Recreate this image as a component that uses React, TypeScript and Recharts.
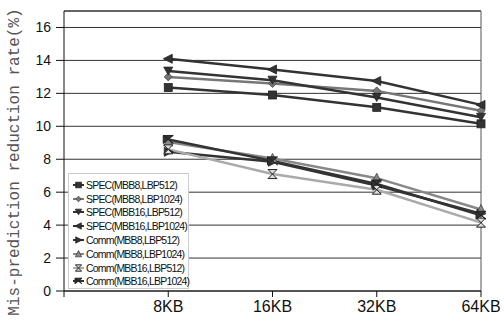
import React from 'react';
import { LineChart, Line, XAxis, YAxis, CartesianGrid, ReferenceLine } from 'recharts';

const categories = ['', '8KB', '16KB', '32KB', '64KB'];
const positions = [1, 2, 3, 4];
const yTicks = [0, 2, 4, 6, 8, 10, 12, 14, 16];

const specMbb8Lbp512 = [12.35, 11.9, 11.15, 10.15];
const specMbb8Lbp1024 = [13.0, 12.6, 12.15, 10.95];
const specMbb16Lbp512 = [13.35, 12.8, 11.75, 10.55];
const specMbb16Lbp1024 = [14.1, 13.45, 12.75, 11.3];
const commMbb8Lbp512 = [8.45, 7.85, 6.4, 4.7];
const commMbb8Lbp1024 = [9.05, 8.05, 6.85, 4.95];
const commMbb16Lbp512 = [8.6, 7.1, 6.15, 4.15];
const commMbb16Lbp1024 = [9.2, 7.9, 6.5, 4.6];

type Shape = 'square' | 'diamond' | 'down' | 'left' | 'right' | 'up' | 'hourglass' | 'bowtie';

const series: { key: string; name: string; values: number[]; color: string; shape: Shape; fill: string }[] = [
  { key: 's1', name: 'SPEC(MBB8,LBP512)', values: specMbb8Lbp512, color: '#333', shape: 'square', fill: '#333' },
  { key: 's2', name: 'SPEC(MBB8,LBP1024)', values: specMbb8Lbp1024, color: '#777', shape: 'diamond', fill: '#777' },
  { key: 's3', name: 'SPEC(MBB16,LBP512)', values: specMbb16Lbp512, color: '#333', shape: 'down', fill: '#333' },
  { key: 's4', name: 'SPEC(MBB16,LBP1024)', values: specMbb16Lbp1024, color: '#333', shape: 'left', fill: '#333' },
  { key: 'c1', name: 'Comm(MBB8,LBP512)', values: commMbb8Lbp512, color: '#333', shape: 'right', fill: '#333' },
  { key: 'c2', name: 'Comm(MBB8,LBP1024)', values: commMbb8Lbp1024, color: '#888', shape: 'up', fill: '#888' },
  { key: 'c3', name: 'Comm(MBB16,LBP512)', values: commMbb16Lbp512, color: '#aaa', shape: 'hourglass', fill: '#ddd' },
  { key: 'c4', name: 'Comm(MBB16,LBP1024)', values: commMbb16Lbp1024, color: '#333', shape: 'bowtie', fill: '#333' },
];

const data = positions.map((x, i) => {
  const row: Record<string, number> = { x };
  series.forEach((s) => {
    row[s.key] = s.values[i];
  });
  return row;
});

function Marker({ shape, cx, cy, fill, s = 1 }: { shape: Shape; cx: number; cy: number; fill: string; s?: number }) {
  const st = '#222';
  const p = (pts: number[][]) => pts.map(([a, b]) => `${cx + a * s},${cy + b * s}`).join(' ');
  switch (shape) {
    case 'square':
      return <rect x={cx - 4 * s} y={cy - 4 * s} width={8 * s} height={8 * s} fill={fill} stroke={st} strokeWidth={0.8} />;
    case 'diamond':
      return <polygon points={p([[0, -4], [4, 0], [0, 4], [-4, 0]])} fill={fill} stroke="#444" strokeWidth={0.8} />;
    case 'down':
      return <polygon points={p([[-4.5, -4], [4.5, -4], [0, 4]])} fill={fill} stroke={st} strokeWidth={0.8} />;
    case 'left':
      return <polygon points={p([[-5, 0], [4, -4.5], [4, 4.5]])} fill={fill} stroke={st} strokeWidth={0.8} />;
    case 'right':
      return <polygon points={p([[5, 0], [-4, -4.5], [-4, 4.5]])} fill={fill} stroke={st} strokeWidth={0.8} />;
    case 'up':
      return <polygon points={p([[0, -5], [4.5, 4], [-4.5, 4]])} fill={fill} stroke="#444" strokeWidth={0.8} />;
    case 'hourglass':
      return <polygon points={p([[-4.5, -4.5], [4.5, -4.5], [-4.5, 4.5], [4.5, 4.5]])} fill={fill} stroke={st} strokeWidth={1} />;
    case 'bowtie':
      return <polygon points={p([[-5, -4], [0, 0], [-5, 4], [-5, -4], [5, -4], [0, 0], [5, 4]])} fill={fill} stroke={st} strokeWidth={1} />;
  }
  return null;
}

function LegendBox() {
  return (
    <div
      style={{
        position: 'absolute',
        left: 68,
        top: 173,
        width: 121,
        height: 116,
        boxSizing: 'border-box',
        background: '#fff',
        border: '1px solid #ccc',
        padding: '4px 0 0 0',
        fontFamily: 'Liberation Sans, Arial, sans-serif',
        fontSize: 10.5,
        letterSpacing: -0.8,
        color: '#111',
        whiteSpace: 'nowrap',
      }}
    >
      {series.map((s) => (
        <div key={s.key} style={{ display: 'flex', alignItems: 'center', height: 13.8 }}>
          <svg width={14} height={12} style={{ marginLeft: 3, flex: 'none' }}>
            <line x1={1} y1={6} x2={12} y2={6} stroke={s.color} strokeWidth={2} />
            <Marker shape={s.shape} cx={6.5} cy={6} fill={s.fill} s={0.7} />
          </svg>
          <span>{s.name}</span>
        </div>
      ))}
    </div>
  );
}

export default function App() {
  return (
    <div style={{ position: 'absolute', left: 0, top: 0, width: 504, height: 323, background: '#fff' }}>
      <LineChart width={504} height={323} data={data} margin={{ top: 11, right: 23, left: 0, bottom: 0 }}>
        <CartesianGrid horizontal vertical={false} stroke="#333" strokeWidth={1} />
        <XAxis
          dataKey="x"
          type="number"
          domain={[0, 4]}
          ticks={[0, 1, 2, 3, 4]}
          tickFormatter={(v: number) => categories[v]}
          height={32}
          tickSize={6}
          tickMargin={4}
          stroke="#111"
          tick={{ fill: '#111', fontSize: 16, fontFamily: 'Liberation Sans, Arial, sans-serif' }}
          interval={0}
        />
        <YAxis
          type="number"
          domain={[0, 17]}
          ticks={yTicks}
          width={64}
          tickSize={8}
          tickMargin={5}
          stroke="#111"
          tick={{ fill: '#111', fontSize: 14, fontFamily: 'Liberation Sans, Arial, sans-serif' }}
          interval={0}
        />
        <ReferenceLine y={17} stroke="#333" strokeWidth={1} />
        <ReferenceLine x={4} stroke="#555" strokeWidth={1} />
        {series.map((s) => (
          <Line
            key={s.key}
            dataKey={s.key}
            name={s.name}
            stroke={s.color}
            strokeWidth={2.5}
            isAnimationActive={false}
            dot={(props: any) => (
              <Marker key={`${s.key}-${props.index}`} shape={s.shape} cx={props.cx} cy={props.cy} fill={s.fill} />
            )}
            activeDot={false}
          />
        ))}
      </LineChart>
      <LegendBox />
      <svg width={40} height={323} style={{ position: 'absolute', left: 0, top: 0 }}>
        <text
          x={15}
          y={162}
          transform="rotate(-90 15 162)"
          textAnchor="middle"
          dominantBaseline="central"
          fontFamily="Liberation Mono, DejaVu Sans Mono, monospace"
          fontSize={16}
          fill="#555"
        >
          Mis-prediction reduction rate(%)
        </text>
      </svg>
    </div>
  );
}
